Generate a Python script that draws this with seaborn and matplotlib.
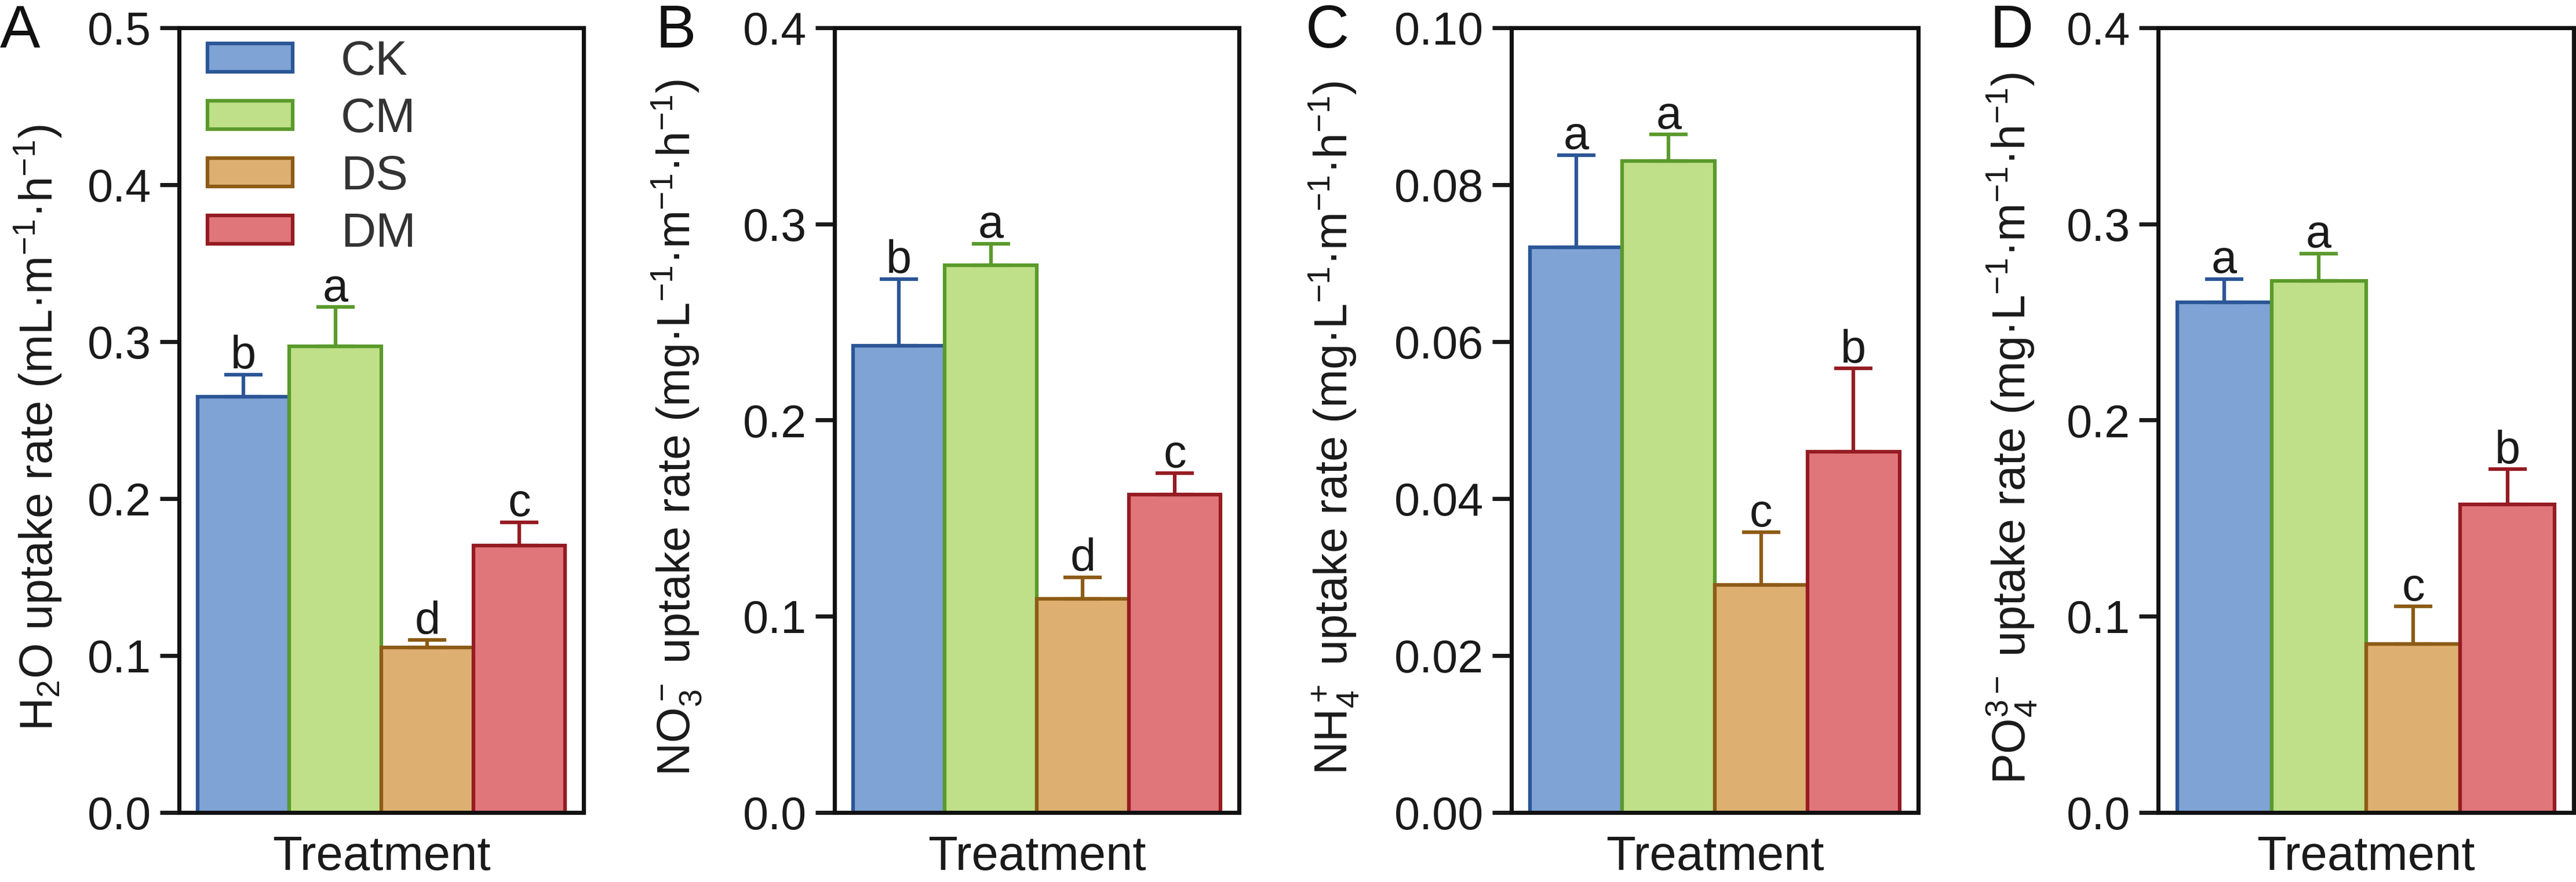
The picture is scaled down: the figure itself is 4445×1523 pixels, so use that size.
import pandas as pd
import seaborn as sns
import matplotlib.pyplot as plt

# treatment groups and colours
groups = ['CK', 'CM', 'DS', 'DM']
fills = ['#7fa3d5', '#bfdf88', '#ddaf71', '#e07679']
edges = ['#2b5696', '#5a9a2b', '#8d5b15', '#951b22']

# panel A: H2O uptake
h2o_mean = [0.265, 0.297, 0.105, 0.170]
h2o_err = [0.014, 0.025, 0.005, 0.015]
h2o_sig = ['b', 'a', 'd', 'c']

# panel B: NO3- uptake
no3_mean = [0.238, 0.279, 0.109, 0.162]
no3_err = [0.034, 0.011, 0.011, 0.011]
no3_sig = ['b', 'a', 'd', 'c']

# panel C: NH4+ uptake
nh4_mean = [0.072, 0.083, 0.029, 0.046]
nh4_err = [0.0118, 0.0034, 0.0067, 0.0106]
nh4_sig = ['a', 'a', 'c', 'b']

# panel D: PO4 3- uptake
po4_mean = [0.260, 0.271, 0.086, 0.157]
po4_err = [0.012, 0.014, 0.019, 0.018]
po4_sig = ['a', 'a', 'c', 'b']

sns.set_theme(style='ticks')
plt.rcParams['font.family'] = ['Liberation Sans', 'DejaVu Sans']
plt.rcParams['mathtext.fontset'] = 'custom'
plt.rcParams['mathtext.rm'] = 'Liberation Sans'
plt.rcParams['mathtext.it'] = 'Liberation Sans:italic'
plt.rcParams['mathtext.bf'] = 'Liberation Sans:bold'
plt.rcParams['mathtext.default'] = 'regular'

txt = '#1a1a1a'
panels = [
    ('A', h2o_mean, h2o_err, h2o_sig, 0.5, 0.1, '%.1f',
     'H$_2$O uptake rate (mL·m$^{-1}$·h$^{-1}$)'),
    ('B', no3_mean, no3_err, no3_sig, 0.4, 0.1, '%.1f',
     'NO$_3^-$ uptake rate (mg·L$^{-1}$·m$^{-1}$·h$^{-1}$)'),
    ('C', nh4_mean, nh4_err, nh4_sig, 0.10, 0.02, '%.2f',
     'NH$_4^+$ uptake rate (mg·L$^{-1}$·m$^{-1}$·h$^{-1}$)'),
    ('D', po4_mean, po4_err, po4_sig, 0.4, 0.1, '%.1f',
     'PO$_4^{3-}$ uptake rate (mg·L$^{-1}$·m$^{-1}$·h$^{-1}$)'),
]

W, H = 4445, 1523
fig = plt.figure(figsize=(W / 300, H / 300), dpi=300)

# axes boxes in pixels (left, right), label centre x in pixels
boxes = [(309, 1007), (1440, 2138), (2608, 3310), (3724, 4441)]
label_x = [66, 1168, 2302, 3471]
top_px, bot_px = 48, 1403
letter_x = [0, 1131, 2253, 3433]

for i, (tag, mean, err, sig, ymax, step, fmt, ylab) in enumerate(panels):
    l, r = boxes[i]
    ax = fig.add_axes([l / W, 1 - bot_px / H, (r - l) / W, (bot_px - top_px) / H])
    df = pd.DataFrame({'Treatment': ['Treatment'] * 4, 'Group': groups, 'value': mean})
    sns.barplot(data=df, x='Treatment', y='value', hue='Group', hue_order=groups,
                palette=fills, saturation=1, errorbar=None, width=0.8,
                linewidth=1.5, legend=False, ax=ax)
    for c, ec, e, s in zip(ax.containers, edges, err, sig):
        bar = c[0]
        bar.set_edgecolor(ec)
        bx = bar.get_x() + bar.get_width() / 2
        by = bar.get_height()
        ax.errorbar(bx, by, yerr=[[0], [e]], fmt='none', ecolor=ec,
                    elinewidth=1.5, capsize=8, capthick=1.5, zorder=1)
        ax.annotate(s, (bx, by + e), xytext=(0, 2.5), textcoords='offset points',
                    ha='center', va='baseline', fontsize=19, color=txt)

    ax.set_ylim(0, ymax)
    ticks = [k * step for k in range(int(round(ymax / step)) + 1)]
    ax.set_yticks(ticks)
    ax.set_yticklabels([fmt % t for t in ticks])
    ax.set_xlabel('')
    ax.set_ylabel(ylab, fontsize=19, color=txt, va='center')
    ax.yaxis.set_label_coords((label_x[i] - l) / (r - l), 0.49)
    ax.tick_params(axis='y', length=8, width=1.7, labelsize=19, pad=3.5,
                   colors=txt, direction='out')
    ax.tick_params(axis='x', length=0, labelsize=20, pad=9, colors=txt)
    for sp in ax.spines.values():
        sp.set_linewidth(1.7)
        sp.set_color('#111111')

    if tag == 'A':
        ax.legend(handles=list(ax.containers), labels=groups, loc='upper left',
                  bbox_to_anchor=(0.07, 0.985), frameon=False, fontsize=20,
                  handlelength=1.76, handleheight=0.52, handletextpad=1.0,
                  labelspacing=0.25, borderpad=0, borderaxespad=0,
                  labelcolor='#333333')

    fig.text(letter_x[i] / W, 1 - 82 / H, tag, fontsize=25, ha='left',
             va='baseline', color='#111111')

fig.savefig('out.png', dpi=300)
